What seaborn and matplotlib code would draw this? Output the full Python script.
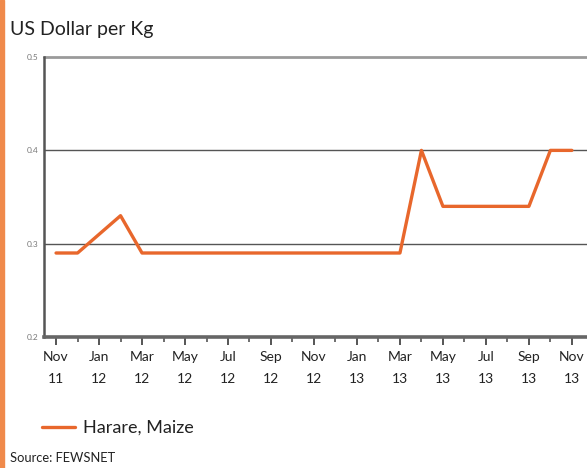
import matplotlib
matplotlib.use("Agg")
import matplotlib.pyplot as plt
import seaborn as sns
import pandas as pd
from matplotlib.patches import Rectangle
from matplotlib.ticker import FixedLocator, NullFormatter

# Monthly maize price in Harare, Nov 2011 - Nov 2013
months = ["Nov 11", "Dec 11", "Jan 12", "Feb 12", "Mar 12", "Apr 12", "May 12",
          "Jun 12", "Jul 12", "Aug 12", "Sep 12", "Oct 12", "Nov 12", "Dec 12",
          "Jan 13", "Feb 13", "Mar 13", "Apr 13", "May 13", "Jun 13", "Jul 13",
          "Aug 13", "Sep 13", "Oct 13", "Nov 13"]
price = [0.29, 0.29, 0.31, 0.33, 0.29, 0.29, 0.29, 0.29, 0.29, 0.29, 0.29,
         0.29, 0.29, 0.29, 0.29, 0.29, 0.29, 0.40, 0.34, 0.34, 0.34, 0.34,
         0.34, 0.40, 0.40]
series_name = "Harare, Maize"
y_ticks = [0.2, 0.3, 0.4, 0.5]

df = pd.DataFrame({"idx": range(len(months)), "price": price,
                   "series": series_name})

sns.set_style("white")
plt.rcParams["font.family"] = ["Lato", "DejaVu Sans"]

ORANGE = "#E8672C"
DARK = "#222222"

fig = plt.figure(figsize=(5.87, 4.68), dpi=100)
ax = fig.add_axes([0.075, 0.280, 0.930, 0.598])

sns.lineplot(data=df, x="idx", y="price", hue="series", palette=[ORANGE],
             linewidth=2.4, ax=ax, legend=False)

ax.set_ylim(0.2, 0.5)
ax.set_xlim(-0.56, 24.84)

# horizontal guide lines
for yv in y_ticks[1:3]:
    ax.axhline(yv, color="#555555", linewidth=1.0, zorder=0)
ax.axhline(0.5, color="#9a9a9a", linewidth=2.0, zorder=0, clip_on=False)

for side in ("top", "right"):
    ax.spines[side].set_visible(False)
ax.spines["left"].set_color("#555555")
ax.spines["left"].set_linewidth(1.8)
ax.spines["bottom"].set_color("#666666")
ax.spines["bottom"].set_linewidth(2.6)

ax.set_yticks(y_ticks)
ax.set_yticklabels([f"{v:.1f}" for v in y_ticks], fontsize=6, color="#777777")
ax.tick_params(axis="y", length=0, pad=4)

major = list(range(0, len(months), 2))
minor = list(range(1, len(months), 2))
ax.xaxis.set_major_locator(FixedLocator(major))
ax.xaxis.set_minor_locator(FixedLocator(minor))
ax.set_xticklabels([months[i].replace(" ", "\n") for i in major],
                   fontsize=10, color=DARK, linespacing=2.0)
ax.xaxis.set_minor_formatter(NullFormatter())
ax.tick_params(axis="x", which="major", direction="out", length=6, width=1.4,
               color="#555555", pad=4, bottom=True)
ax.tick_params(axis="x", which="minor", direction="out", length=3.5,
               width=1.2, color="#555555", bottom=True)
ax.set_xlabel("")
ax.set_ylabel("")

fig.text(0.017, 0.938, "US Dollar per Kg", fontsize=14, color=DARK,
         va="center", ha="left")

# legend
fig.lines.append(plt.Line2D([0.072, 0.128], [0.087, 0.087],
                            transform=fig.transFigure, color=ORANGE,
                            linewidth=2.4))
fig.text(0.141, 0.087, series_name, fontsize=13, color=DARK,
         va="center", ha="left")

fig.text(0.017, 0.021, "Source: FEWSNET", fontsize=9.3, color=DARK,
         va="center", ha="left")

# orange edge stripe
fig.patches.append(Rectangle((0, 0), 0.006, 1, transform=fig.transFigure,
                             color="#F08A4B", zorder=5))

fig.savefig("out.png", dpi=100, facecolor="white")
